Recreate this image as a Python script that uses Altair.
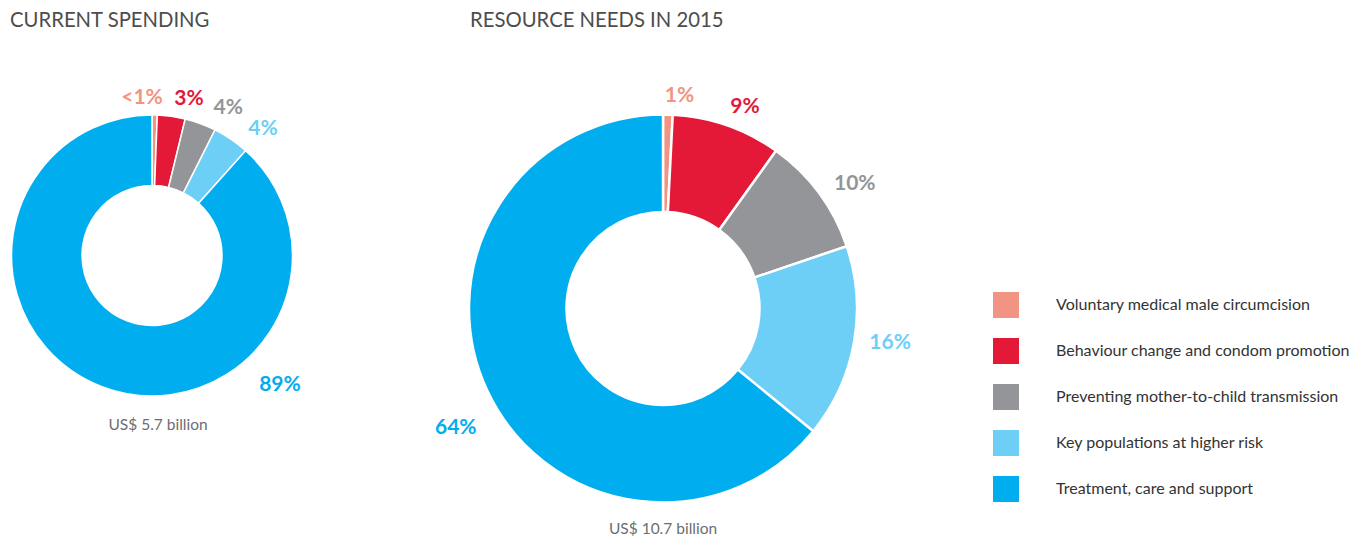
import altair as alt
import pandas as pd

categories = [
    "Voluntary medical male circumcision",
    "Behaviour change and condom promotion",
    "Preventing mother-to-child transmission",
    "Key populations at higher risk",
    "Treatment, care and support",
]
colors = ["#F29483", "#E31937", "#939598", "#6DCFF6", "#00AEEF"]

current_values = [0.6, 3.2, 3.6, 4.2, 88.4]
current_labels = ["<1%", "3%", "4%", "4%", "89%"]
needs_values = [0.8, 9.1, 9.9, 16.1, 64.1]
needs_labels = ["1%", "9%", "10%", "16%", "64%"]

titles = ["CURRENT SPENDING", "RESOURCE NEEDS IN 2015"]
totals = ["US$ 5.7 billion", "US$ 10.7 billion"]

FONT = "Lato"

legend = alt.Legend(
    title=None, orient="none", legendX=985, legendY=284,
    symbolType="square", symbolSize=676, symbolStrokeWidth=0, symbolOpacity=1,
    rowPadding=20, labelOffset=37, labelFont=FONT, labelFontSize=16,
    labelColor="#333333", labelLimit=400, padding=0,
)


def donut(values, labels, cx, cy, r_in, r_out, sw, label_r, nudges):
    df = pd.DataFrame({"category": categories, "value": values,
                       "label": labels, "idx": list(range(len(values)))})
    theta_scale = alt.Scale(domain=[0, sum(values)])
    base = alt.Chart(df).encode(x=alt.value(cx), y=alt.value(cy))
    arcs = base.mark_arc(innerRadius=r_in, outerRadius=r_out,
                         stroke="white", strokeWidth=sw).encode(
        theta=alt.Theta("value:Q", stack=True, scale=theta_scale),
        color=alt.Color("category:N",
                        scale=alt.Scale(domain=categories, range=colors),
                        legend=legend),
        order=alt.Order("idx:Q"),
    )
    layers = [arcs]
    for i, (dx, dy) in enumerate(nudges):
        t = (
            base.transform_window(cum="sum(value)", sort=[alt.SortField("idx")],
                                  frame=[None, 0])
            .transform_calculate(mid="datum.cum - datum.value / 2")
            .transform_filter(f"datum.idx == {i}")
            .mark_text(radius=label_r, dx=dx, dy=dy, font=FONT, fontSize=21,
                       fontWeight="bold", color=colors[i], align="center",
                       baseline="middle")
            .encode(theta=alt.Theta("mid:Q", scale=theta_scale), text="label:N")
        )
        layers.append(t)
    return layers


left = donut(current_values, current_labels, 144, 247.5, 70, 140.5, 1.5, 160,
             [(-13, 2.5), (15, 2), (21, 3), (21, 6), (185, -20)])
right = donut(needs_values, needs_labels, 655, 300.5, 96.5, 194, 2.5, 215,
              [(11, 2), (11, 1), (19, 4), (15.5, -4), (-13, 27)])

title_df = pd.DataFrame({"t": titles})
total_df = pd.DataFrame({"t": totals})


def text_layer(df, i, x, y, align, size, color):
    return (
        alt.Chart(df).transform_filter(f"datum.t == '{df['t'][i]}'")
        .mark_text(font=FONT, fontSize=size, color=color, align=align,
                   baseline="middle")
        .encode(x=alt.value(x), y=alt.value(y), text="t:N")
    )


annotations = [
    text_layer(title_df, 0, 2, 13, "left", 20.3, "#4D4D4D"),
    text_layer(title_df, 1, 462, 13, "left", 20.3, "#4D4D4D"),
    text_layer(total_df, 0, 150, 417, "center", 15.5, "#6D6E71"),
    text_layer(total_df, 1, 655, 521, "center", 15.5, "#6D6E71"),
]

chart = (
    alt.layer(*left, *right, *annotations)
    .resolve_scale(theta="independent")
    .properties(width=1344, height=529, padding=0,
                autosize=alt.AutoSizeParams(type="none"))
    .configure_view(stroke=None)
)

chart.save("out.html", embed_options={"renderer": "svg", "actions": False})
